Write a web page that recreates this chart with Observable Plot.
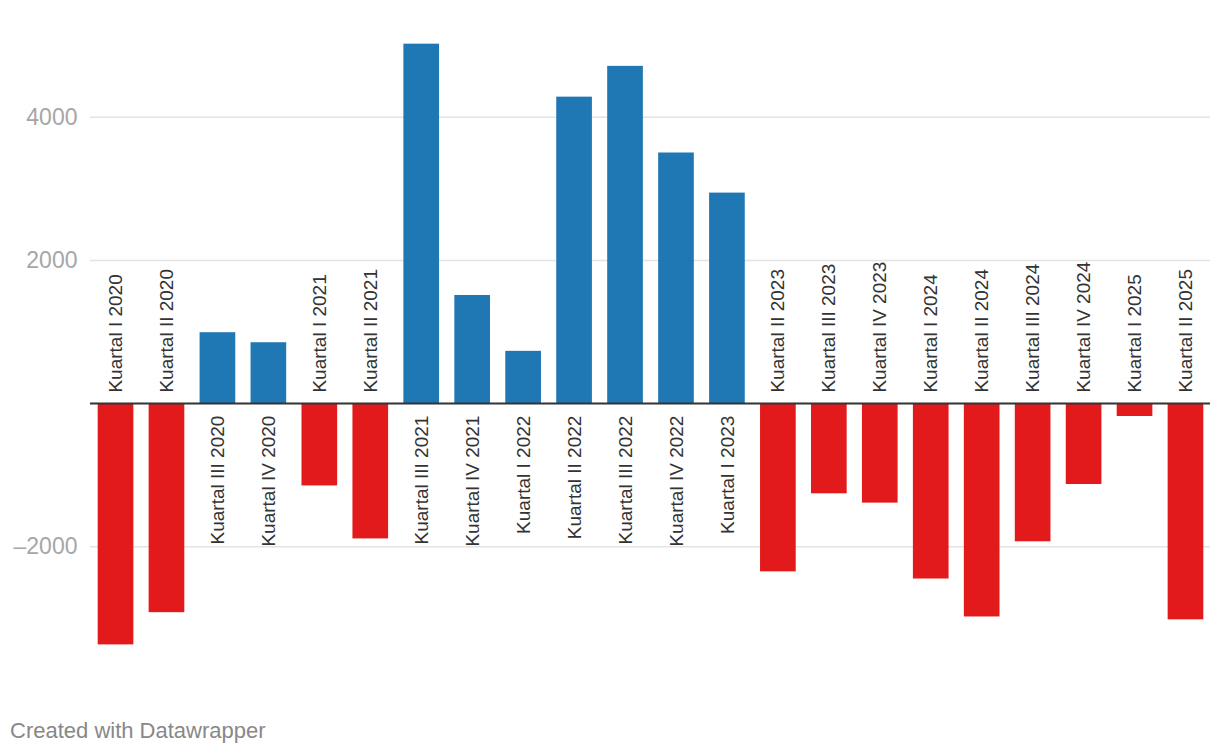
<!DOCTYPE html>
<html>
<head>
<meta charset="utf-8">
<script src="https://cdn.jsdelivr.net/npm/d3@7"></script>
<script src="https://cdn.jsdelivr.net/npm/@observablehq/plot@0.6"></script>
<style>
  html, body { margin: 0; padding: 0; background: #fff; }
  #wrap { position: relative; width: 1220px; height: 756px; font-family: "Liberation Sans", Arial, Helvetica, sans-serif; }
  #footer { position: absolute; left: 10px; top: 720px; font-size: 22px; line-height: 22px; color: #888; }
</style>
</head>
<body>
<div id="wrap"><div id="chart"></div><div id="footer">Created with Datawrapper</div></div>
<script>
const quarters = [
  "Kuartal I 2020","Kuartal II 2020","Kuartal III 2020","Kuartal IV 2020",
  "Kuartal I 2021","Kuartal II 2021","Kuartal III 2021","Kuartal IV 2021",
  "Kuartal I 2022","Kuartal II 2022","Kuartal III 2022","Kuartal IV 2022",
  "Kuartal I 2023","Kuartal II 2023","Kuartal III 2023","Kuartal IV 2023",
  "Kuartal I 2024","Kuartal II 2024","Kuartal III 2024","Kuartal IV 2024",
  "Kuartal I 2025","Kuartal II 2025"
];
const values = [
  -3370, -2920, 990, 850,
  -1150, -1890, 5020, 1510,
  730, 4280, 4710, 3500,
  2940, -2350, -1260, -1390,
  -2450, -2980, -1930, -1130,
  -180, -3020
];
const yTicks = [-2000, 2000, 4000];

const data = quarters.map((q, i) => ({q, v: values[i]}));
const pos = data.filter(d => d.v >= 0);
const neg = data.filter(d => d.v < 0);

const chart = Plot.plot({
  width: 1220,
  height: 700,
  marginLeft: 90,
  marginRight: 10,
  marginTop: 0,
  marginBottom: 0,
  style: {fontFamily: '"Liberation Sans", Arial, Helvetica, sans-serif', background: "#fff"},
  x: {type: "band", domain: quarters, range: [82.4, 1218.6], padding: 0.3, round: false, axis: null},
  y: {domain: [-2000, 4000], range: [546.3, 116.7], axis: null},
  marks: [
    Plot.ruleY(yTicks, {stroke: "#e3e3e3", strokeWidth: 1.5}),
    Plot.axisY(yTicks, {tickSize: 0, tickPadding: 13, fontSize: 23, fill: "#a6a6a6", label: null, tickFormat: d => (d < 0 ? "\u2013" : "") + Math.abs(d)}),
    Plot.barY(data, {x: "q", y1: 0, y2: "v", fill: d => d.v >= 0 ? "#1f77b4" : "#e31a1c"}),
    Plot.ruleY([0], {stroke: "#333", strokeWidth: 2}),
    Plot.text(neg, {x: "q", y: () => 0, text: "q", rotate: -90, textAnchor: "start", lineAnchor: "middle", dy: -11, fontSize: 19, fill: "#333"}),
    Plot.text(pos, {x: "q", y: () => 0, text: "q", rotate: -90, textAnchor: "end", lineAnchor: "middle", dy: 12, fontSize: 19, fill: "#333"})
  ]
});
document.getElementById("chart").appendChild(chart);
</script>
</body>
</html>
